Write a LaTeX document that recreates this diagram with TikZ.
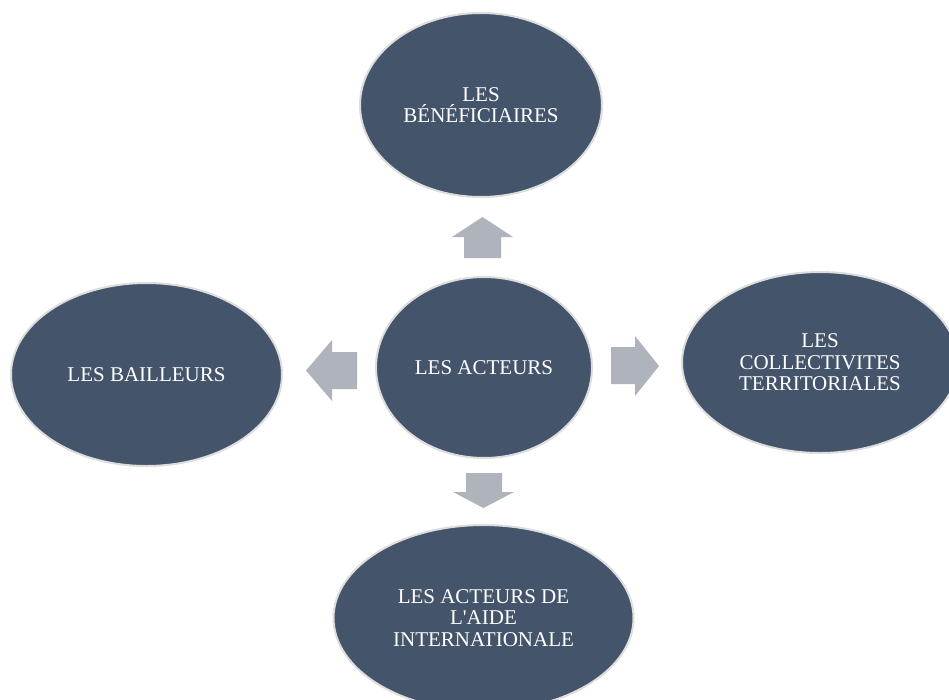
\documentclass[tikz,border=0pt]{standalone}
\usepackage{fontspec}
\setmainfont{Liberation Serif}
\usetikzlibrary{shapes.geometric}
\definecolor{fillc}{HTML}{44546A}
\definecolor{edgec}{HTML}{DDDDDD}
\definecolor{arrowc}{HTML}{AFB3BC}
\begin{document}
\begin{tikzpicture}[x=1pt,y=-1pt,
  bubble/.style={ellipse, fill=fillc, draw=edgec, line width=2pt, text=white,
    align=center, inner sep=0pt, font=\fontsize{21}{21.5}\selectfont},
  blockarrow/.style={fill=arrowc, draw=none}]
\useasboundingbox (0,0) rectangle (949,699);
\clip (0,0) rectangle (949,699);
\node[bubble, minimum width=242pt, minimum height=184pt] (ben) at (481,105) {LES\\BÉNÉFICIAIRES};
\node[bubble, minimum width=216pt, minimum height=181pt] (act) at (484,367.5) {LES ACTEURS};
\node[bubble, minimum width=271pt, minimum height=183pt] (bai) at (146.5,374.5) {LES BAILLEURS};
\node[bubble, minimum width=276pt, minimum height=181pt] (col) at (820,362.5) {LES\\COLLECTIVITES\\TERRITORIALES};
\node[bubble, minimum width=300pt, minimum height=186pt] (int) at (483.5,618) {LES ACTEURS DE\\L\textquotesingle AIDE\\INTERNATIONALE};
% block arrows
\fill[blockarrow] (464,258) -- (464,237) -- (452,237) -- (482.5,217) -- (513,237) -- (501,237) -- (501,258) -- cycle;
\fill[blockarrow] (466,473) -- (466,492) -- (453,492) -- (483.5,508) -- (514,492) -- (502,492) -- (502,473) -- cycle;
\fill[blockarrow] (357,352) -- (332,352) -- (332,340) -- (306,370.5) -- (332,401) -- (332,389) -- (357,389) -- cycle;
\fill[blockarrow] (611,347) -- (635,347) -- (635,336) -- (659,366) -- (635,396) -- (635,384) -- (611,384) -- cycle;
\end{tikzpicture}
\end{document}
